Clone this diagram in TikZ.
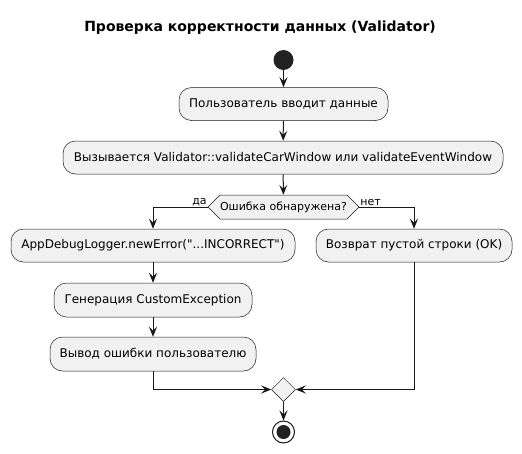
\documentclass[tikz,border=0pt]{standalone}
\usepackage{fontspec}
\setmainfont{DejaVu Sans}[Ligatures=TeXOff]
\usetikzlibrary{arrows.meta,shapes.geometric}
\definecolor{boxfill}{HTML}{F1F1F1}
\definecolor{ink}{HTML}{181818}
\definecolor{dot}{HTML}{222222}
\tikzset{
  act/.style={draw=ink, line width=0.5pt, fill=boxfill, rounded corners=12.5pt, minimum height=33pt, inner sep=0pt, font=\fontsize{12}{14}\selectfont, text=black},
  arr/.style={draw=ink, line width=1pt, -{Stealth[length=10pt,width=8pt,inset=4pt]}},
  lab/.style={font=\fontsize{11}{13}\selectfont, inner sep=1pt, text=black},
}
\begin{document}
\begin{tikzpicture}[x=1pt,y=1pt]
\useasboundingbox (0,0) rectangle (522,-453);
\node[font=\fontsize{14}{16}\selectfont\bfseries] (title) at (260,-28) {Проверка корректности данных (Validator)};
\node[circle, fill=dot, minimum size=20pt, inner sep=0pt] (start) at (283.5,-60) {};
\node[act, minimum width=209pt] (b1) at (283.5,-104) {Пользователь вводит данные};
\node[act, minimum width=440pt] (b2) at (283,-157.5) {Вызывается Validator::validateCarWindow или validateEventWindow};
\draw[draw=ink, line width=0.5pt, fill=boxfill] (208,-207) -- (220,-195) -- (347,-195) -- (359,-207) -- (347,-219) -- (220,-219) -- cycle;
\node[font=\fontsize{11}{13}\selectfont, minimum width=151pt, minimum height=24pt, inner sep=0pt] (dec) at (283.5,-207) {Ошибка обнаружена?};
\node[act, minimum width=284pt] (b3) at (153,-245.5) {AppDebugLogger.newError("...INCORRECT")};
\node[act, minimum width=196pt] (b4) at (414,-245.5) {Возврат пустой строки (OK)};
\node[act, minimum width=198pt, minimum height=34pt] (b5) at (153,-300) {Генерация CustomException};
\node[act, minimum width=206pt, minimum height=34pt] (b6) at (153,-354) {Вывод ошибки пользователю};
\node[diamond, draw=ink, line width=0.5pt, fill=boxfill, minimum width=24pt, minimum height=24pt, inner sep=0pt] (merge) at (283.5,-389.5) {};
\node[circle, draw=ink, line width=1pt, fill=white, minimum size=22pt, inner sep=0pt] (stop) at (283.5,-432) {};
\node[circle, fill=dot, minimum size=14pt, inner sep=0pt] (stopin) at (stop.center) {};
\draw[arr] (start) -- (b1);
\draw[arr] (b1) -- (b2);
\draw[arr] (b2) -- (dec);
\draw[arr] (dec.west) -| (b3.north);
\draw[arr] (dec.east) -| (b4.north);
\node[lab, anchor=south east] (da) at (dec.west) {да};
\node[lab, anchor=south west] (net) at (dec.east) {нет};
\draw[arr] (b3) -- (b5);
\draw[arr] (b5) -- (b6);
\draw[arr] (b6.south) |- (merge.west);
\draw[arr] (b4.south) |- (merge.east);
\draw[arr] (merge) -- (stop);
\end{tikzpicture}
\end{document}
